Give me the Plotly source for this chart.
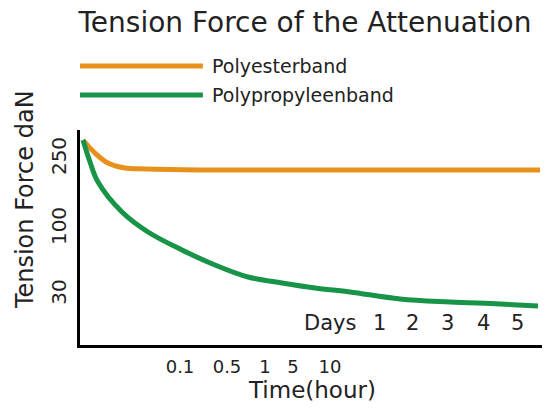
import plotly.graph_objects as go

# x / y positions are on the drawing's own (non-uniform) scale
polyester_x = [3, 15, 28, 45, 65, 120, 250, 460]
polyester_y = [205, 192, 182, 177, 176, 175, 175, 175]

polypropylene_x = [3, 10, 18, 42, 68, 102, 135, 168, 202, 235, 270, 320, 370, 420, 458]
polypropylene_y = [205, 183, 163, 133, 113, 95, 80, 68, 62, 57, 53, 46, 43, 41, 39]

hour_ticks = ['0.1', '0.5', '1', '5', '10']
hour_pos = [100, 147, 185, 213, 250]

day_ticks = ['Days', '1', '2', '3', '4', '5']
day_pos = [250, 299, 332, 367, 403, 437]

force_ticks = ['250', '100', '30']
force_pos = [186, 116, 50]

ORANGE = '#E8901C'
GREEN = '#179447'
FONT = 'DejaVu Sans'


def graph_drawer():
    fig = go.Figure()
    fig.add_trace(go.Scatter(x=polyester_x, y=polyester_y, mode='lines', name='Polyesterband',
                             line=dict(color=ORANGE, width=5, shape='spline')))
    fig.add_trace(go.Scatter(x=polypropylene_x, y=polypropylene_y, mode='lines', name='Polypropyleenband',
                             line=dict(color=GREEN, width=5, shape='spline')))

    # page has an 8px body margin, so the figure is a bit smaller than the window
    fig.update_layout(
        width=549, height=404,
        margin=dict(l=72, r=15, t=122, b=67, autoexpand=False),
        plot_bgcolor='white', paper_bgcolor='white',
        showlegend=False,
        font=dict(family=FONT, color='#222222'),
        title=dict(text='Tension Force of the Attenuation', x=0.541, y=0.965,
                   xanchor='center', yanchor='middle', font=dict(size=28, color='#222222')),
    )
    fig.update_xaxes(range=[0, 462], showgrid=False, zeroline=False, automargin=False,
                     showline=True, linecolor='black', linewidth=3,
                     tickmode='array', tickvals=hour_pos, ticktext=hour_ticks,
                     ticks='', ticklabelstandoff=3, tickfont=dict(size=18))
    fig.update_yaxes(range=[0, 215], showgrid=False, zeroline=False, automargin=False,
                     showline=True, linecolor='black', linewidth=3,
                     tickmode='array', tickvals=force_pos, ticktext=force_ticks,
                     ticks='', tickangle=-90, ticklabelstandoff=3, tickfont=dict(size=20))

    # legend drawn by hand (long line samples)
    for name, color, yp in [('Polyesterband', ORANGE, 1.298), ('Polypropyleenband', GREEN, 1.163)]:
        fig.add_shape(type='line', xref='paper', yref='paper', x0=0, x1=0.266, y0=yp, y1=yp,
                      line=dict(color=color, width=5))
        fig.add_annotation(text=name, xref='paper', yref='paper', x=0.281, y=yp,
                           xanchor='left', yanchor='middle', showarrow=False,
                           font=dict(size=19, color='#222222'))

    # day labels sit above the x axis
    for lab, xp in zip(day_ticks, day_pos):
        fig.add_annotation(text=lab, x=xp, xref='x', y=0.102, yref='paper',
                           xanchor='center', yanchor='middle',
                           showarrow=False, font=dict(size=21, color='#222222'))

    fig.add_annotation(text='Time(hour)', x=232, xref='x', y=-0.209, yref='paper',
                       xanchor='center', yanchor='middle',
                       showarrow=False, font=dict(size=23, color='#222222'))
    fig.add_annotation(text='Tension Force daN', x=-0.119, xref='paper', y=0.674, yref='paper',
                       xanchor='center', yanchor='middle', textangle=-90,
                       showarrow=False, font=dict(size=24, color='#222222'))

    fig.write_html('out.html')


graph_drawer()
